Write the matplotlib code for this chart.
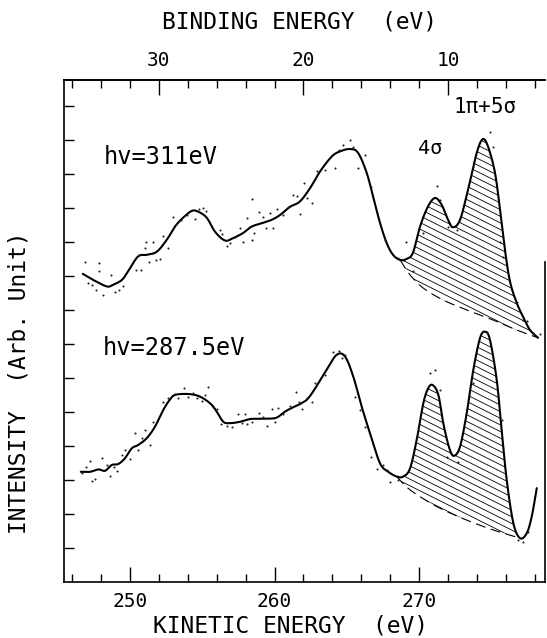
import numpy as np
import matplotlib
matplotlib.use("Agg")
import matplotlib.pyplot as plt
from matplotlib.path import Path
from matplotlib.patches import PathPatch

plt.rcParams['font.family'] = ['DejaVu Sans Mono', 'DejaVu Sans']

# ---- data (kinetic energy in eV, intensity in arb. units) ----
ke_311 = [246.73, 247.46, 248.39, 248.82, 249.43, 249.86, 250.55, 251.16, 251.85, 252.54,
          253.11, 253.67, 254.27, 254.71, 255.31, 255.88, 256.57, 257.13, 257.82, 258.42,
          259.20, 259.81, 260.38, 261.07, 261.76, 262.46, 263.15, 263.96, 264.53, 265.22,
          265.78, 266.38, 266.82, 267.30, 267.76, 268.20, 268.69, 269.15, 269.58, 270.07,
          270.62, 271.11, 271.57, 272.01, 272.35, 272.84, 273.39, 273.99, 274.41, 274.78,
          275.26, 275.61, 275.95, 276.30, 276.76, 277.20, 277.68, 278.24]
int_311 = [9.06, 8.88, 8.69, 8.74, 8.88, 9.13, 9.57, 9.62, 9.71, 10.06,
           10.45, 10.71, 10.91, 10.89, 10.71, 10.30, 10.04, 10.11, 10.26, 10.45,
           10.56, 10.65, 10.79, 11.03, 11.19, 11.58, 12.07, 12.51, 12.66, 12.73,
           12.62, 12.03, 11.33, 10.56, 9.97, 9.62, 9.47, 9.50, 9.68, 10.45,
           11.04, 11.29, 11.09, 10.65, 10.43, 10.65, 11.53, 12.61, 13.02, 12.80,
           12.03, 10.94, 9.76, 8.83, 8.21, 7.80, 7.41, 7.18]
base_ke_311 = [268.69, 269.38, 270.30, 271.68, 273.30, 275.14, 276.76, 278.24]
base_int_311 = [9.47, 9.03, 8.64, 8.29, 8.00, 7.70, 7.41, 7.18]
dots_ke_311 = [246.89, 247.11, 247.35, 247.65, 247.88, 247.88, 248.15, 248.66, 248.96, 249.26,
               249.49, 250.42, 250.76, 250.64, 251.04, 251.11, 251.34, 251.61, 251.80, 252.08,
               252.30, 252.65, 252.96, 253.51, 253.92, 254.50, 254.80, 255.07, 255.26, 256.23,
               256.35, 256.69, 256.92, 257.27, 257.61, 257.84, 258.12, 258.42, 258.42, 258.58,
               258.95, 259.18, 259.41, 259.69, 259.92, 260.19, 260.57, 260.96, 261.26, 261.54,
               261.76, 262.06, 262.27, 262.57, 262.92, 263.49, 264.19, 264.48, 264.72, 265.22,
               265.41, 265.80, 266.26, 266.68, 267.07, 267.65, 268.57, 269.10, 269.61, 270.30,
               271.22, 271.45, 272.03, 272.61, 273.76, 274.91, 275.14, 275.61, 275.83, 276.76,
               277.18, 277.45, 277.91, 278.37]
dots_int_311 = [9.42, 8.79, 8.74, 8.59, 9.39, 9.13, 8.44, 9.03, 8.54, 8.59,
                8.71, 9.18, 9.18, 9.62, 9.81, 10.01, 9.42, 10.01, 9.47, 9.49,
                10.16, 9.81, 10.74, 10.65, 10.79, 10.67, 10.96, 10.99, 10.92, 10.35,
                10.23, 9.88, 9.96, 10.14, 10.40, 10.01, 10.70, 10.06, 11.26, 10.26,
                10.89, 10.74, 10.40, 10.84, 10.40, 10.96, 10.79, 11.02, 11.38, 11.35,
                10.82, 11.74, 11.29, 11.14, 12.07, 12.12, 12.17, 12.71, 12.85, 13.00,
                12.80, 12.17, 12.56, 11.61, 10.84, 10.06, 9.52, 10.01, 9.13, 10.26,
                11.63, 11.24, 10.45, 10.35, 12.21, 13.24, 12.80, 10.01, 9.57, 8.24,
                7.71, 7.66, 7.33, 7.29]

ke_2875 = [246.59, 247.23, 247.81, 248.27, 248.73, 249.19, 249.65, 250.12, 250.57, 251.16,
           251.73, 252.30, 252.77, 253.11, 253.81, 254.50, 255.07, 255.65, 256.00, 256.46,
           256.92, 257.61, 258.30, 259.00, 259.92, 260.26, 260.73, 261.30, 261.88, 262.46,
           263.61, 264.30, 264.88, 265.45, 266.03, 266.61, 267.30, 267.88, 268.46, 268.91,
           269.38, 269.84, 270.30, 270.64, 270.95, 271.34, 271.68, 272.10, 272.42, 272.84,
           273.30, 273.76, 274.22, 274.57, 274.91, 275.38, 275.72, 276.07, 276.53, 276.99,
           277.45, 277.80, 278.15]
int_2875 = [3.24, 3.24, 3.31, 3.27, 3.44, 3.47, 3.64, 3.93, 4.03, 4.23,
            4.57, 5.06, 5.37, 5.50, 5.53, 5.50, 5.40, 5.21, 5.01, 4.71,
            4.67, 4.71, 4.79, 4.80, 4.81, 4.86, 5.01, 5.14, 5.26, 5.47,
            6.24, 6.68, 6.63, 6.04, 5.16, 4.37, 3.49, 3.24, 3.10, 3.10,
            3.34, 4.18, 5.26, 5.70, 5.79, 5.50, 4.67, 3.93, 3.71, 3.98,
            4.96, 6.24, 7.17, 7.36, 7.12, 5.94, 4.47, 3.00, 1.73, 1.29,
            1.43, 1.92, 2.76]
base_ke_2875 = [268.46, 269.15, 270.07, 271.45, 273.30, 275.14, 276.99]
base_int_2875 = [3.10, 2.79, 2.51, 2.17, 1.82, 1.53, 1.29]
dots_ke_2875 = [246.66, 246.96, 247.23, 247.35, 247.58, 248.04, 248.39, 248.62, 248.91, 249.08,
                249.43, 249.65, 250.00, 250.35, 250.57, 250.81, 251.04, 251.38, 251.61, 252.30,
                252.65, 253.11, 253.34, 253.74, 254.03, 254.38, 254.66, 254.96, 255.19, 255.42,
                255.76, 256.00, 256.28, 256.69, 257.04, 257.49, 257.73, 257.96, 258.12, 258.42,
                258.95, 259.18, 259.46, 259.81, 260.03, 260.26, 260.61, 261.07, 261.49, 261.72,
                262.23, 261.88, 262.57, 262.80, 263.49, 264.07, 264.48, 264.65, 264.88, 265.57,
                265.92, 266.26, 266.68, 267.11, 267.49, 267.81, 267.99, 268.57, 269.84, 270.76,
                271.11, 271.45, 271.92, 272.72, 273.76, 274.69, 275.72, 276.87, 277.22, 277.56]
dots_int_2875 = [3.20, 3.37, 3.57, 2.98, 3.04, 3.64, 3.43, 3.12, 3.39, 3.27,
                 3.74, 3.88, 3.61, 4.37, 3.88, 4.23, 4.47, 4.03, 4.71, 5.30,
                 5.40, 5.53, 5.40, 5.70, 5.45, 5.55, 5.40, 5.33, 5.50, 5.73,
                 5.14, 5.08, 4.65, 4.59, 4.57, 4.93, 4.67, 4.93, 4.65, 4.71,
                 4.96, 4.86, 4.59, 5.08, 4.71, 5.11, 4.94, 5.18, 5.60, 5.30,
                 5.40, 5.08, 5.30, 5.84, 6.09, 6.77, 6.80, 6.58, 6.68, 5.45,
                 5.06, 4.57, 3.69, 3.31, 3.44, 3.29, 2.95, 3.00, 4.27, 6.14,
                 6.24, 5.65, 3.69, 3.54, 5.84, 7.31, 4.76, 1.24, 1.19, 1.48]

BE_OFFSET = 282.0  # binding energy = BE_OFFSET - kinetic energy (top axis)


def smooth(xs, ys, n=12):
    # Catmull-Rom through the traced points
    p = np.column_stack([xs, ys]).astype(float)
    p = np.vstack([p[0], p, p[-1]])
    out = []
    t = np.linspace(0, 1, n, endpoint=False)[:, None]
    for i in range(1, len(p) - 2):
        p0, p1, p2, p3 = p[i - 1], p[i], p[i + 1], p[i + 2]
        seg = 0.5 * (2 * p1 + (-p0 + p2) * t + (2 * p0 - 5 * p1 + 4 * p2 - p3) * t ** 2
                     + (-p0 + 3 * p1 - 3 * p2 + p3) * t ** 3)
        out.append(seg)
    out.append(p[-2][None, :])
    out = np.vstack(out)
    return out[:, 0], out[:, 1]


fig = plt.figure(figsize=(5.47, 6.38), dpi=100)
ax = fig.add_axes([64 / 547, 56 / 638, 481 / 547, 502 / 638])
ax.set_xlim(245.43, 278.72)
ax.set_ylim(0, 14.76)


def draw_spectrum(ke, inten, bke, bint, dke, dint):
    cx, cy = smooth(ke, inten)
    bx, by = smooth(bke, bint)
    ax.plot(cx, cy, color='black', lw=1.5, solid_capstyle='round')
    ax.plot(dke, dint, ls='none', marker='o', ms=1.5, mfc='#222222', mec='none')
    ax.plot(bx, by, color='black', lw=0.8, dashes=(9, 5))

    # hatched area between spectrum and background
    m = (cx >= bx[0]) & (cx <= bx[-1])
    poly = np.vstack([np.column_stack([cx[m], cy[m]]),
                      np.column_stack([bx[::-1], by[::-1]])])
    patch = PathPatch(Path(poly, closed=True), facecolor='none', edgecolor='none')
    ax.add_patch(patch)
    # shallow diagonal hatch lines (about 27 deg in screen space)
    slope = -0.5 * (14.45 / 34.0)
    x0, x1 = bx[0] - 1, bx[-1] + 1
    for c in np.arange(by.min() - 8, cy[m].max() + 8, 0.195):
        ln, = ax.plot([x0, x1], [c, c + slope * (x1 - x0)], color='black', lw=0.6)
        ln.set_clip_path(patch)


draw_spectrum(ke_311, int_311, base_ke_311, base_int_311, dots_ke_311, dots_int_311)
draw_spectrum(ke_2875, int_2875, base_ke_2875, base_int_2875, dots_ke_2875, dots_int_2875)

# axes frame: right edge of the scan only shows the lower part of the spine
ax.spines['right'].set_visible(False)
ax.plot([1, 1], [0, 0.637], transform=ax.transAxes, color='black', lw=1.2, clip_on=False)
for s in ['left', 'bottom', 'top']:
    ax.spines[s].set_linewidth(1.2)

# bottom axis: kinetic energy
ax.set_xticks([250, 260, 270])
ax.set_xticks([246, 248, 252, 254, 256, 258, 262, 264, 266, 268, 272, 274, 276, 278], minor=True)
ax.tick_params(axis='x', which='major', direction='in', length=11, width=1, labelsize=14, pad=7,
               top=False)
ax.tick_params(axis='x', which='minor', direction='in', length=6, width=1, top=False)

# left axis: intensity ticks without labels
ax.set_yticks(np.arange(1, 15))
ax.tick_params(axis='y', direction='in', length=7, width=1, labelleft=False, right=False)

# top axis: binding energy
top = ax.secondary_xaxis('top', functions=(lambda k: BE_OFFSET - k, lambda b: BE_OFFSET - b))
top.set_xticks([30, 20, 10])
top.set_xticks([36, 34, 32, 28, 26, 24, 22, 18, 16, 14, 12, 8, 6, 4], minor=True)
top.tick_params(which='major', direction='in', length=11, width=1, labelsize=14, pad=7)
top.tick_params(which='minor', direction='in', length=6, width=1)
top.spines['top'].set_linewidth(1.2)

fig.text(300 / 547, 1 - 22 / 638, 'BINDING ENERGY  (eV)', ha='center', va='center', fontsize=16.5)
fig.text(291 / 547, 1 - 626 / 638, 'KINETIC ENERGY  (eV)', ha='center', va='center', fontsize=16.5)
fig.text(19 / 547, 1 - 383 / 638, 'INTENSITY  (Arb. Unit)', ha='center', va='center',
         rotation=90, fontsize=16.5)

ax.text(248.2, 12.5, 'hv=311eV', ha='left', va='center', fontsize=17)
ax.text(248.13, 6.88, 'hv=287.5eV', ha='left', va='center', fontsize=17)
ax.text(270.76, 12.76, '4σ', ha='center', va='center', fontsize=14.5)
ax.text(274.57, 13.97, '1π+5σ', ha='center', va='center', fontsize=15)

fig.savefig('out.png', dpi=100)
plt.close(fig)
